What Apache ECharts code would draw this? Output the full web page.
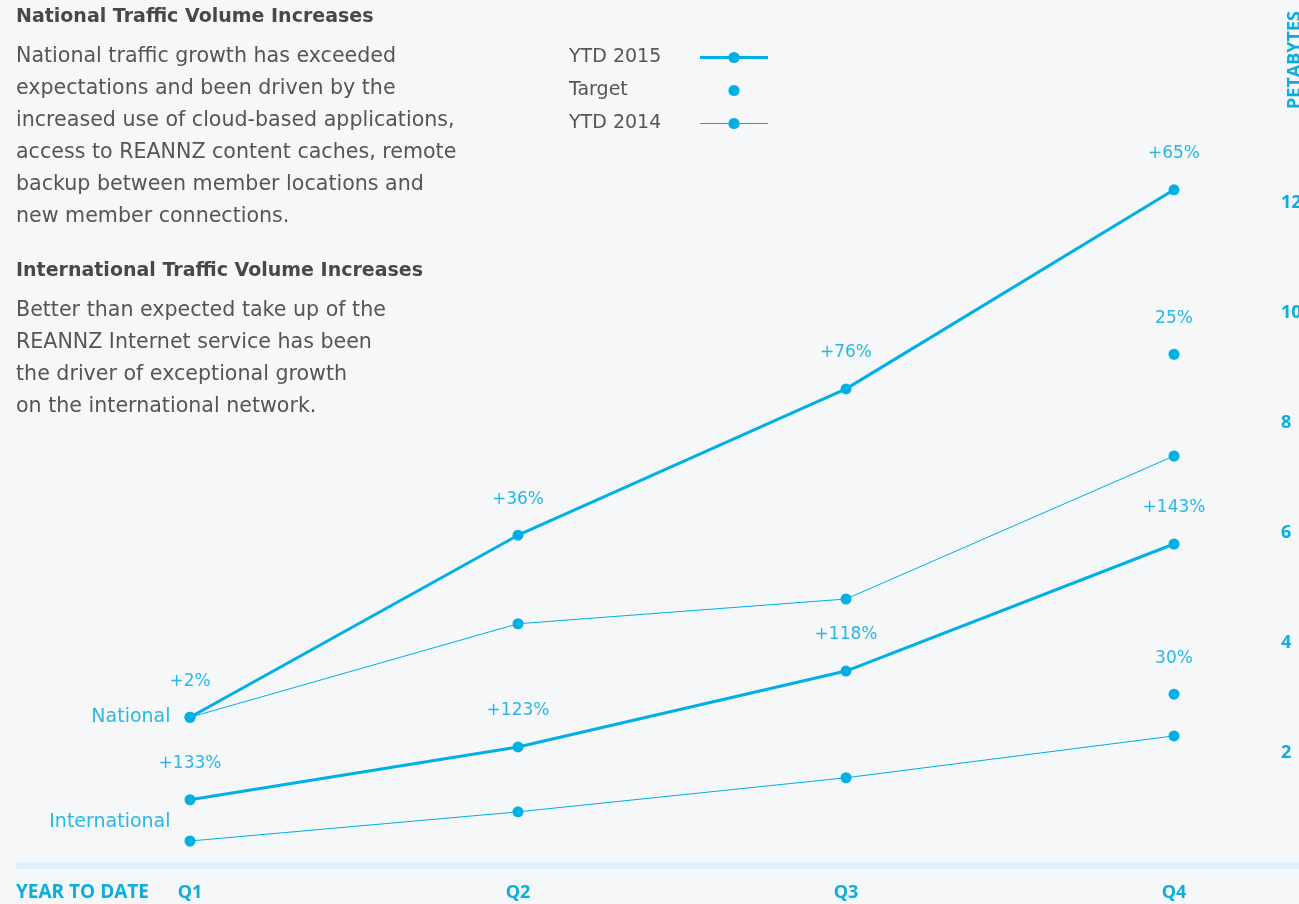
<!DOCTYPE html>
<html>
<head>
<meta charset="utf-8">
<script src="https://cdn.jsdelivr.net/npm/echarts@6/dist/echarts.min.js"></script>
<style>
html,body{margin:0;padding:0;background:#f5f7f9;overflow:hidden;}
#chart{width:1299px;height:904px;}
</style>
</head>
<body>
<div id="chart"></div>
<script>
// ---- data ----
var categories = ['Q1', 'Q2', 'Q3', 'Q4'];
var national2015 = [2.65, 5.96, 8.62, 12.24];
var national2014 = [2.65, 4.35, 4.80, 7.40];
var nationalTarget = [null, null, null, 9.25];
var international2015 = [1.15, 2.11, 3.49, 5.80];
var international2014 = [0.40, 0.93, 1.55, 2.31];
var internationalTarget = [null, null, null, 3.07];
var national2015Labels = ['+2%', '+36%', '+76%', '+65%'];
var international2015Labels = ['+133%', '+123%', '+118%', '+143%'];
var nationalTargetLabel = '25%';
var internationalTargetLabel = '30%';
var yTicks = [2, 4, 6, 8, 10, 12];

var LINE = '#00b0e4';
var LABEL = '#2ab7e6';
var AXIS = '#0aaede';
var TEXT = '#555555';
var FONT = '"DejaVu Sans", sans-serif';
var AXFONT = '"Open Sans", Roboto, sans-serif';

var chart = echarts.init(document.getElementById('chart'));

function pctLabel(arr) {
  return {
    show: true, position: 'top', distance: 22,
    color: LABEL, fontSize: 17, fontFamily: FONT,
    formatter: function (p) { return arr[p.dataIndex]; }
  };
}

function textLines(lines, x, y0, step) {
  return lines.map(function (t, i) {
    return {type: 'text', left: x, top: y0 + i * step, style: {text: t, fill: TEXT, font: '20.6px ' + FONT}};
  });
}

var graphics = [
  {type: 'text', left: 16, top: 8, style: {text: 'National Traffic Volume Increases', fill: '#484848', font: 'bold 19px ' + FONT}},
  {type: 'text', left: 16, top: 262, style: {text: 'International Traffic Volume Increases', fill: '#484848', font: 'bold 19px ' + FONT}},
  {type: 'rect', shape: {x: 16, y: 862, width: 1283, height: 7}, style: {fill: '#dff0fc'}, z: -1},
  {type: 'text', left: 16, top: 883, style: {text: 'YEAR TO DATE', fill: AXIS, font: 'bold 19px ' + AXFONT}},
  {type: 'text', x: 1295, y: 60, rotation: Math.PI / 2, style: {text: 'PETABYTES', fill: AXIS, font: 'bold 18px ' + AXFONT, align: 'center', verticalAlign: 'middle'}}
].concat(textLines([
  'National traffic growth has exceeded',
  'expectations and been driven by the',
  'increased use of cloud-based applications,',
  'access to REANNZ content caches, remote',
  'backup between member locations and',
  'new member connections.'
], 16, 46, 32)).concat(textLines([
  'Better than expected take up of the',
  'REANNZ Internet service has been',
  'the driver of exceptional growth',
  'on the international network.'
], 16, 300, 32));

function withSideLabel(arr, text, offsetY) {
  return arr.map(function (v, i) {
    if (i !== 0) return v;
    return {
      value: v,
      label: {show: true, position: 'left', distance: 14, offset: [0, offsetY],
        color: LABEL, fontSize: 19, fontFamily: FONT, formatter: text}
    };
  });
}

var option = {
  backgroundColor: '#f5f7f9',
  animation: false,
  grid: {left: 190, right: 125, top: 93, bottom: 41, containLabel: false, outerBoundsMode: 'none'},
  legend: {
    orient: 'vertical', left: 569, top: 48, padding: 0,
    align: 'right', itemGap: 14, itemWidth: 68, itemHeight: 14,
    data: [
      {name: 'YTD 2015', lineStyle: {width: 3}},
      {name: 'Target'},
      {name: 'YTD 2014', lineStyle: {width: 1}}
    ],
    formatter: '{a|{name}}',
    textStyle: {color: TEXT, fontSize: 19, fontFamily: FONT,
      rich: {a: {width: 126, align: 'left', color: TEXT, fontSize: 19, fontFamily: FONT}}}
  },
  xAxis: {
    type: 'category', data: categories, boundaryGap: false,
    axisLine: {show: false}, axisTick: {show: false}, splitLine: {show: false},
    axisLabel: {color: AXIS, fontWeight: 'bold', fontSize: 18, fontFamily: AXFONT, margin: 21}
  },
  yAxis: {
    type: 'value', position: 'right', min: 0, max: 14, interval: 2,
    axisLine: {show: false}, axisTick: {show: false}, splitLine: {show: false},
    axisLabel: {
      color: AXIS, fontWeight: 'bold', fontSize: 18, fontFamily: AXFONT, margin: 107, align: 'left',
      formatter: function (v) { return yTicks.indexOf(v) >= 0 ? String(v) : ''; }
    }
  },
  graphic: graphics,
  series: [
    {name: 'YTD 2015', type: 'line', data: national2015, symbol: 'circle', symbolSize: 11,
      lineStyle: {color: LINE, width: 3}, itemStyle: {color: LINE}, label: pctLabel(national2015Labels), z: 3},
    {name: 'Target', type: 'line', data: nationalTarget, symbol: 'circle', symbolSize: 11,
      lineStyle: {color: 'rgba(0,0,0,0)', width: 1}, itemStyle: {color: LINE},
      label: {show: true, position: 'top', distance: 22, color: LABEL, fontSize: 17, fontFamily: FONT, formatter: nationalTargetLabel}},
    {name: 'YTD 2014', type: 'line', data: withSideLabel(national2014, 'National', 0), symbol: 'circle', symbolSize: 11,
      lineStyle: {color: LINE, width: 1}, itemStyle: {color: LINE}, label: {show: false}},
    {name: 'YTD 2015', type: 'line', data: international2015, symbol: 'circle', symbolSize: 11,
      lineStyle: {color: LINE, width: 3}, itemStyle: {color: LINE}, label: pctLabel(international2015Labels), z: 3},
    {name: 'Target', type: 'line', data: internationalTarget, symbol: 'circle', symbolSize: 11,
      lineStyle: {color: 'rgba(0,0,0,0)', width: 1}, itemStyle: {color: LINE},
      label: {show: true, position: 'top', distance: 22, color: LABEL, fontSize: 17, fontFamily: FONT, formatter: internationalTargetLabel}},
    {name: 'YTD 2014', type: 'line', data: withSideLabel(international2014, 'International', -19), symbol: 'circle', symbolSize: 11,
      lineStyle: {color: LINE, width: 1}, itemStyle: {color: LINE}, label: {show: false}}
  ]
};
chart.setOption(option);
</script>
</body>
</html>
